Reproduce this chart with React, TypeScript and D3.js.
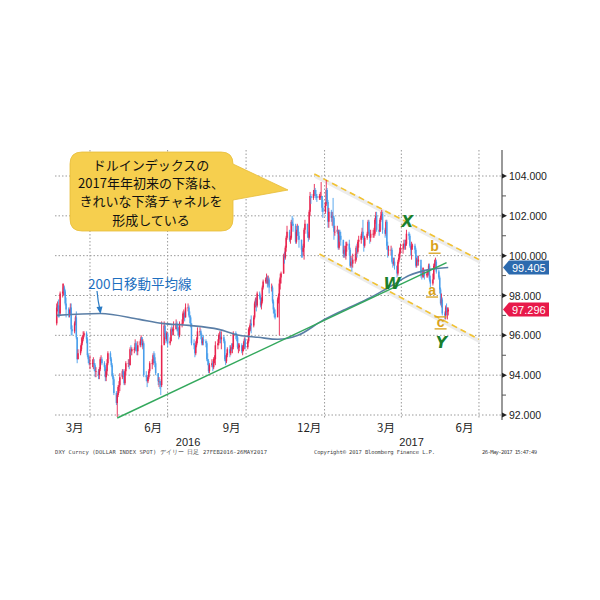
import * as d3 from 'd3';

// DXY daily bars, 22 Feb 2016 .. 26 May 2017 (one row per week, Mon..Fri)
const startOpen = 96.6;
const closes = [
  97.4, 97.5, 97.3, 97.1, 98.1,
  98.2, 98.4, 98.2, 97.6, 97.3,
  97.1, 97.1, 97.4, 96.3, 96.2,
  96.6, 96.9, 95.9, 94.8, 95.1,
  95.3, 95.6, 95.8, 96.0, 96.1,
  95.8, 95.0, 94.8, 94.6, 94.6,
  94.6, 94.6, 94.5, 94.2, 94.2,
  94.0, 94.3, 94.8, 94.8, 94.6,
  94.4, 93.9, 94.2, 94.6, 95.1,
  94.8, 94.5, 94.0, 93.8, 93.1,
  92.6, 93.0, 93.4, 93.5, 93.9,
  94.2, 94.0, 93.6, 94.2, 94.6,
  94.6, 94.5, 95.3, 95.2, 95.3,
  95.3, 95.6, 95.3, 95.2, 95.5,
  95.7, 95.9, 95.5, 95.6, 94.0,
  93.9, 93.7, 93.9, 94.2, 94.6,
  94.6, 95.0, 94.9, 94.6, 94.1,
  93.7, 93.7, 93.6, 93.5, 95.5,
  96.5, 96.1, 95.8, 96.1, 95.6,
  95.7, 96.3, 96.2, 96.3, 96.3,
  96.6, 96.4, 96.2, 96.0, 96.6,
  96.6, 97.1, 97.1, 96.9, 97.4,
  97.4, 97.0, 96.9, 96.6, 95.6,
  95.5, 95.1, 95.5, 95.8, 96.2,
  96.2, 96.0, 95.6, 95.8, 95.7,
  95.6, 94.8, 94.7, 94.2, 94.5,
  94.6, 94.4, 94.8, 94.8, 95.5,
  95.6, 96.0, 96.0, 95.8, 95.9,
  95.7, 94.8, 94.7, 95.0, 95.3,
  95.1, 95.4, 95.3, 95.4, 96.1,
  96.0, 95.9, 95.4, 95.4, 95.5,
  95.2, 95.4, 95.5, 95.8, 95.4,
  95.7, 96.3, 96.3, 96.6, 96.5,
  96.9, 97.6, 97.8, 97.5, 98.1,
  97.9, 97.5, 97.7, 98.4, 98.7,
  98.8, 98.9, 98.6, 98.8, 98.4,
  98.4, 97.7, 97.3, 97.1, 96.9,
  97.8, 98.0, 98.6, 98.9, 99.1,
  100.0, 99.9, 100.4, 100.9, 101.2,
  100.8, 100.9, 101.7, 101.6, 101.5,
  100.7, 101.2, 101.5, 101.0, 100.8,
  100.3, 100.2, 100.4, 101.3, 101.6,
  101.1, 100.9, 102.2, 103.0, 102.9,
  103.1, 103.3, 103.1, 103.0, 102.9,
  103.0, 103.0, 103.0, 102.4, 102.2,
  102.6, 103.3, 102.7, 101.7, 102.2,
  101.9, 102.0, 101.9, 101.2, 101.2,
  101.3, 100.4, 101.2, 101.0, 100.8,
  100.1, 100.3, 100.0, 100.5, 100.6,
  100.3, 99.5, 99.7, 99.6, 99.8,
  99.8, 100.4, 100.2, 100.7, 100.8,
  101.0, 101.2, 100.9, 100.5, 100.9,
  101.1, 101.7, 101.2, 100.9, 101.1,
  101.1, 101.1, 101.8, 102.0, 101.3,
  101.2, 101.8, 102.0, 102.1, 101.3,
  101.1, 101.7, 100.5, 100.3, 100.3,
  100.3, 99.7, 99.6, 99.7, 99.5,
  99.1, 99.7, 99.9, 100.2, 100.4,
  100.4, 100.6, 100.5, 100.6, 101.1,
  101.0, 100.5, 100.3, 100.5, 100.5,
  100.3, 99.5, 99.8, 99.7, 99.8,
  99.1, 99.0, 99.1, 99.2, 99.0,
  99.1, 99.2, 99.5, 98.8, 98.6,
  98.8, 99.5, 99.6, 99.7, 99.2,
  98.9, 98.3, 97.6, 97.8, 97.1,
  97.0, 97.4, 97.2, 97.2, 97.296,
];
const highs = [
  97.6, 97.7, 97.8, 97.5, 98.2,
  98.6, 98.6, 98.5, 98.3, 97.9,
  97.4, 97.3, 97.6, 97.6, 96.5,
  96.7, 97.0, 97.2, 95.9, 95.3,
  95.5, 95.9, 96.0, 96.2, 96.2,
  96.2, 95.9, 95.1, 94.9, 95.0,
  94.8, 94.9, 94.8, 94.6, 94.4,
  94.3, 94.4, 94.9, 95.0, 94.9,
  94.7, 94.5, 94.3, 94.8, 95.2,
  95.2, 94.9, 94.6, 94.1, 93.9,
  93.2, 93.1, 93.5, 93.7, 94.1,
  94.3, 94.3, 94.1, 94.3, 94.7,
  94.8, 94.8, 95.4, 95.5, 95.4,
  95.4, 95.8, 95.7, 95.4, 95.7,
  95.8, 96.0, 95.9, 95.8, 95.7,
  94.2, 94.0, 94.0, 94.3, 94.7,
  94.8, 95.1, 95.2, 95.1, 94.7,
  94.1, 93.9, 93.8, 93.7, 96.7,
  96.7, 96.5, 96.2, 96.2, 96.1,
  95.9, 96.4, 96.5, 96.4, 96.7,
  96.8, 96.7, 96.5, 96.4, 96.7,
  96.8, 97.2, 97.3, 97.2, 97.6,
  97.6, 97.5, 97.2, 97.0, 96.6,
  95.8, 95.6, 95.7, 95.9, 96.4,
  96.4, 96.3, 96.1, 95.9, 96.0,
  95.8, 95.7, 95.1, 94.8, 94.6,
  94.8, 94.7, 94.9, 95.0, 95.7,
  95.8, 96.1, 96.2, 96.2, 96.2,
  96.0, 95.8, 95.0, 95.1, 95.4,
  95.5, 95.5, 95.6, 95.6, 96.2,
  96.2, 96.1, 96.0, 95.6, 95.6,
  95.6, 95.5, 95.7, 95.9, 95.9,
  95.8, 96.4, 96.5, 96.8, 97.0,
  97.0, 97.7, 97.9, 97.9, 98.2,
  98.2, 98.0, 97.9, 98.5, 98.8,
  98.9, 99.1, 99.0, 99.0, 98.9,
  98.6, 98.5, 97.8, 97.4, 97.3,
  97.9, 98.1, 98.8, 99.1, 99.2,
  100.1, 100.2, 100.5, 101.0, 101.5,
  101.3, 101.0, 101.8, 102.0, 101.9,
  101.6, 101.3, 101.6, 101.5, 101.2,
  100.8, 100.5, 100.6, 101.4, 101.8,
  101.6, 101.2, 102.3, 103.2, 103.1,
  103.3, 103.6, 103.4, 103.3, 103.1,
  103.1, 103.2, 103.7, 103.0, 102.8,
  102.7, 103.8, 103.4, 102.8, 102.4,
  102.3, 102.2, 102.9, 102.0, 101.5,
  101.5, 101.3, 101.3, 101.3, 101.2,
  100.7, 100.5, 100.4, 100.7, 100.7,
  100.8, 100.4, 100.0, 99.9, 100.1,
  100.1, 100.5, 100.6, 100.8, 101.0,
  101.1, 101.4, 101.8, 101.0, 101.0,
  101.2, 101.8, 101.8, 101.3, 101.3,
  101.3, 101.4, 101.9, 102.2, 102.2,
  101.6, 101.9, 102.2, 102.3, 102.2,
  101.4, 101.8, 101.8, 100.7, 100.5,
  100.5, 100.4, 99.9, 99.9, 99.9,
  99.5, 99.8, 100.1, 100.4, 100.6,
  100.6, 100.8, 100.8, 100.8, 101.3,
  101.2, 101.1, 100.6, 100.7, 100.6,
  100.6, 100.4, 99.9, 100.0, 100.0,
  99.5, 99.3, 99.4, 99.4, 99.3,
  99.2, 99.3, 99.6, 99.6, 99.0,
  99.1, 99.6, 99.8, 99.9, 99.8,
  99.3, 99.0, 98.4, 98.1, 97.9,
  97.2, 97.5, 97.6, 97.4, 97.4,
];
const lows = [
  96.5, 97.2, 96.9, 96.9, 97.0,
  97.9, 98.0, 98.0, 97.5, 96.9,
  96.9, 96.9, 97.0, 96.0, 96.0,
  96.1, 96.5, 95.8, 94.6, 94.8,
  95.0, 95.2, 95.5, 95.7, 95.9,
  95.6, 94.9, 94.6, 94.5, 94.3,
  94.4, 94.3, 94.2, 93.9, 93.9,
  93.8, 93.8, 94.2, 94.6, 94.5,
  94.2, 93.7, 93.7, 94.0, 94.5,
  94.7, 94.4, 93.9, 93.5, 93.0,
  92.5, 91.9, 92.9, 93.1, 93.2,
  93.8, 93.9, 93.5, 93.5, 94.0,
  94.4, 94.3, 94.5, 95.0, 95.0,
  95.1, 95.2, 95.2, 95.0, 95.0,
  95.4, 95.6, 95.4, 95.3, 93.9,
  93.7, 93.4, 93.6, 93.8, 94.1,
  94.3, 94.5, 94.6, 94.4, 94.0,
  93.5, 93.4, 93.3, 93.0, 93.4,
  95.6, 95.9, 95.6, 95.7, 95.4,
  95.5, 95.7, 96.0, 96.0, 96.0,
  96.3, 96.2, 96.0, 95.8, 95.9,
  96.4, 96.5, 96.8, 96.7, 96.9,
  97.2, 96.9, 96.6, 96.4, 95.5,
  95.3, 94.9, 95.0, 95.4, 95.6,
  96.0, 95.8, 95.5, 95.5, 95.5,
  95.4, 94.7, 94.5, 94.1, 94.1,
  94.4, 94.2, 94.3, 94.6, 94.5,
  95.3, 95.5, 95.8, 95.6, 95.3,
  95.6, 94.7, 94.5, 94.6, 94.9,
  94.9, 95.0, 95.2, 95.1, 95.3,
  95.8, 95.7, 95.3, 95.1, 95.2,
  95.1, 95.0, 95.2, 95.3, 95.3,
  95.3, 95.6, 96.0, 96.2, 96.1,
  96.4, 96.8, 97.4, 97.2, 97.4,
  97.8, 97.4, 97.3, 97.6, 98.3,
  98.6, 98.6, 98.4, 98.5, 98.1,
  98.2, 97.6, 97.1, 96.9, 96.8,
  97.1, 97.6, 96.0, 98.3, 98.6,
  99.1, 99.6, 99.8, 100.2, 100.8,
  100.7, 100.6, 100.8, 101.5, 101.2,
  100.6, 100.6, 101.0, 100.8, 100.4,
  99.9, 99.9, 100.0, 99.8, 101.1,
  100.9, 100.7, 100.8, 102.0, 102.6,
  102.8, 103.0, 102.9, 102.8, 102.7,
  102.8, 102.8, 102.9, 102.2, 101.9,
  102.1, 102.5, 102.6, 101.4, 101.4,
  101.7, 101.5, 101.4, 100.8, 101.0,
  101.1, 100.3, 100.3, 100.7, 100.5,
  99.9, 99.9, 99.9, 99.8, 100.2,
  100.0, 99.4, 99.4, 99.2, 99.4,
  99.6, 99.7, 99.9, 100.1, 100.4,
  100.6, 100.9, 100.8, 100.2, 100.4,
  100.8, 101.0, 101.0, 100.6, 100.7,
  100.9, 100.9, 101.0, 101.6, 101.2,
  101.0, 101.2, 101.7, 101.8, 101.1,
  100.9, 101.0, 100.3, 99.9, 100.0,
  100.0, 99.6, 99.4, 99.5, 99.3,
  98.9, 99.0, 99.6, 99.8, 100.1,
  100.1, 100.3, 100.3, 100.3, 100.5,
  100.8, 100.4, 100.0, 99.8, 100.3,
  100.1, 99.4, 99.4, 99.5, 99.5,
  98.9, 98.8, 98.9, 98.9, 98.8,
  98.9, 98.9, 99.0, 98.7, 98.4,
  98.5, 98.8, 99.3, 99.4, 99.1,
  98.8, 98.1, 97.5, 97.4, 97.0,
  96.8, 96.8, 97.0, 96.8, 97.0,
];

// 200-day moving average
const maDates = [
  '2016-02-22', '2016-04-13', '2016-05-29', '2016-06-24', '2016-07-26', '2016-08-30',
  '2016-09-23', '2016-10-15', '2016-11-07', '2016-12-01', '2016-12-28', '2017-01-20',
  '2017-02-24', '2017-03-21', '2017-04-10', '2017-05-03', '2017-05-26',
];
const maValues = [
  97.0, 97.1, 96.8, 96.6, 96.5, 96.3, 96.0, 95.9, 95.8, 96.0, 96.7, 97.2, 97.9, 98.5, 99.0,
  99.3, 99.405,
];

// drawn lines: support trend line and the falling channel
const trendLine = [['2016-05-03', 91.85], ['2017-05-24', 99.65]];
const channelUpper = [['2016-12-20', 104.1], ['2017-07-01', 99.8]];
const channelLower = [['2016-12-26', 100.08], ['2017-07-01', 95.8]];

const waveLabels = [
  { text: 'W', date: '2017-03-21', value: 98.6, kind: 'major' },
  { text: 'X', date: '2017-04-08', value: 101.7, kind: 'major' },
  { text: 'Y', date: '2017-05-18', value: 95.65, kind: 'major' },
  { text: 'a', date: '2017-05-07', value: 98.25, kind: 'minor' },
  { text: 'b', date: '2017-05-10', value: 100.45, kind: 'minor' },
  { text: 'c', date: '2017-05-17', value: 96.65, kind: 'minor' },
];

const yTicks = [92, 94, 96, 98, 100, 102, 104];
const yMinor = [93, 95, 97, 99, 101, 103];
const gridDates = ['2016-04-01', '2016-07-01', '2016-10-01', '2017-01-01', '2017-04-01', '2017-07-01'];
const monthLabels = [
  ['2016-03-14', '3月'], ['2016-06-14', '6月'], ['2016-09-14', '9月'],
  ['2016-12-14', '12月'], ['2017-03-14', '3月'], ['2017-06-14', '6月'],
];
const yearLabels = [['2016-07-25', '2016'], ['2017-04-13', '2017']];

const lastMA = 99.405;
const lastClose = 97.296;

const parse = d3.timeParse('%Y-%m-%d');
const RED = '#e8234e';
const BLUE = '#4a9fec';
const ORANGE = '#f2c230';
const GREEN_TXT = '#1a7f2c';
const JP = "'Noto Sans CJK JP', 'Noto Sans', sans-serif";
const NUM = "'Liberation Sans', Arial, sans-serif";

function tradingDay(i: number) {
  const start = new Date(2016, 1, 22);
  const d = new Date(start);
  d.setDate(start.getDate() + Math.floor(i / 5) * 7 + (i % 5));
  return d;
}

export default function App() {
  const x = d3.scaleTime().domain([new Date(2016, 1, 20), new Date(2017, 6, 28)]).range([55, 502]);
  const y = d3.scaleLinear().domain([92, 104]).range([415, 176]);

  const bars = closes.map((c, i) => ({
    date: tradingDay(i),
    open: i === 0 ? startOpen : closes[i - 1],
    close: c,
    high: highs[i],
    low: lows[i],
  }));

  const maLine = d3
    .line<number>()
    .x((_, i) => x(parse(maDates[i])!))
    .y((v) => y(v))
    .curve(d3.curveMonotoneX)(maValues);

  const seg = (pts: (string | number)[][]) =>
    d3
      .line<(string | number)[]>()
      .x((p) => x(parse(p[0] as string)!))
      .y((p) => y(p[1] as number))(pts) as string;

  const tag = (v: number, fill: string, label: string) => {
    const cy = y(v);
    return (
      <g key={label}>
        <path
          d={`M503,${cy} L509,${cy - 7} L549,${cy - 7} L549,${cy + 7} L509,${cy + 7} Z`}
          fill={fill}
        />
        <text x={512} y={cy + 4} fontSize={11} fill="#fff" fontFamily={NUM}>
          {label}
        </text>
      </g>
    );
  };

  return (
    <svg
      width={600}
      height={600}
      style={{ position: 'absolute', left: 0, top: 0, background: '#fff' }}
    >
      {/* grid */}
      {yTicks.map((t) => (
        <line key={t} x1={55} x2={502} y1={y(t)} y2={y(t)} stroke="#9a9a9a" strokeDasharray="1.5,2" />
      ))}
      {gridDates.map((d) => (
        <line key={d} x1={x(parse(d)!)} x2={x(parse(d)!)} y1={150} y2={418} stroke="#9a9a9a" strokeDasharray="1.5,2" />
      ))}

      {/* y axis */}
      <line x1={502} x2={502} y1={150} y2={420} stroke="#777" strokeWidth={1.5} />
      {yMinor.map((t) => (
        <line key={t} x1={502} x2={506} y1={y(t)} y2={y(t)} stroke="#555" />
      ))}
      {yTicks.map((t) => (
        <g key={t}>
          <path d={`M502,${y(t) - 2.5} L507,${y(t)} L502,${y(t) + 2.5} Z`} fill="#222" />
          <text x={509} y={y(t) + 4} fontSize={10.5} fill="#222" fontFamily={NUM}>
            {t.toFixed(3)}
          </text>
        </g>
      ))}

      {/* x labels */}
      {monthLabels.map(([d, t], i) => (
        <text key={i} x={x(parse(d)!)} y={432} fontSize={11.5} textAnchor="middle" fill="#222" fontFamily={JP}>
          {t}
        </text>
      ))}
      {yearLabels.map(([d, t]) => (
        <text key={t} x={x(parse(d)!)} y={446} fontSize={11} textAnchor="middle" fill="#222" fontFamily={NUM}>
          {t}
        </text>
      ))}

      {/* channel with soft shadow */}
      {[channelUpper, channelLower].map((c, i) => (
        <g key={i}>
          <path d={seg(c)} stroke="#ececec" strokeWidth={4} fill="none" transform="translate(1,2)" />
          <path d={seg(c)} stroke={ORANGE} strokeWidth={1.6} strokeDasharray="6,4" fill="none" />
        </g>
      ))}

      {/* bars */}
      {bars.map((b, i) => {
        const col = b.close >= b.open ? RED : BLUE;
        const bx = x(b.date);
        return (
          <g key={i}>
            <line x1={bx} x2={bx} y1={y(b.high)} y2={y(b.low)} stroke={col} strokeWidth={0.9} />
            <line x1={bx} x2={bx} y1={y(b.open)} y2={y(b.close) + (b.open === b.close ? 0.8 : 0)} stroke={col} strokeWidth={1.5} />
          </g>
        );
      })}

      {/* moving average and trend line */}
      <path d={maLine!} fill="none" stroke="#5a7ea6" strokeWidth={1.6} />
      <path d={seg(trendLine)} fill="none" stroke="#33a85c" strokeWidth={1.5} />

      {/* wave labels */}
      {waveLabels.map((w) => {
        const lx = x(parse(w.date)!);
        const ly = y(w.value);
        if (w.kind === 'major') {
          return (
            <text key={w.text} x={lx} y={ly + 5.5} fontSize={15.5} fontStyle="italic" fontWeight="bold" textAnchor="middle" fill={GREEN_TXT} fontFamily="'DejaVu Sans', sans-serif">
              {w.text}
            </text>
          );
        }
        return (
          <g key={w.text}>
            <text x={lx} y={ly + 4.5} fontSize={14} fontWeight="bold" textAnchor="middle" fill="#d9a21b" fontFamily={NUM}>
              {w.text}
            </text>
            <line x1={lx - 6} x2={lx + 6} y1={ly + 6.5} y2={ly + 6.5} stroke="#d9a21b" strokeWidth={1.3} />
            {w.text === 'c' && <line x1={lx - 6} x2={lx + 6} y1={ly - 5.5} y2={ly - 5.5} stroke="#d9a21b" strokeWidth={1.3} />}
          </g>
        );
      })}

      {/* price tags */}
      {tag(lastMA, '#2c6aae', '99.405')}
      {tag(lastClose, '#e8194a', '97.296')}

      {/* callout */}
      <path
        d="M82,152 H221 Q233,152 233,164 L288,190 L233,200 V219 Q233,231 221,231 H82 Q70,231 70,219 V164 Q70,152 82,152 Z"
        fill="#f6cf4e"
        stroke="#e7bd3a"
        strokeWidth={0.8}
      />
      {['ドルインデックスの', '2017年年初来の下落は、', 'きれいな下落チャネルを', '形成している'].map((t, i) => (
        <text key={i} x={151} y={170 + i * 18.2} fontSize={13} textAnchor="middle" fill="#111" fontFamily={JP}>
          {t}
        </text>
      ))}

      {/* MA annotation */}
      <text x={88} y={289} fontSize={13.5} fill="#1d6fc0" fontFamily={JP}>
        200日移動平均線
      </text>
      <path d="M97,291 Q98,302 100,310" fill="none" stroke="#2a7bc4" strokeWidth={1.2} />
      <path d="M96.5,307 L100.5,314 L102.5,306.5 Z" fill="#2a7bc4" />

      {/* footer */}
      <text x={55} y={454} fontSize={5.5} fill="#444" fontFamily="'DejaVu Sans Mono', monospace" textLength={212}>
        DXY Curncy (DOLLAR INDEX SPOT) デイリー 日足 27FEB2016-26MAY2017
      </text>
      <text x={314} y={454} fontSize={5.5} fill="#444" fontFamily="'DejaVu Sans Mono', monospace" textLength={121}>
        Copyright© 2017 Bloomberg Finance L.P.
      </text>
      <text x={482} y={454} fontSize={5.5} fill="#444" fontFamily="'DejaVu Sans Mono', monospace" textLength={55}>
        26-May-2017 15:47:49
      </text>
    </svg>
  );
}
